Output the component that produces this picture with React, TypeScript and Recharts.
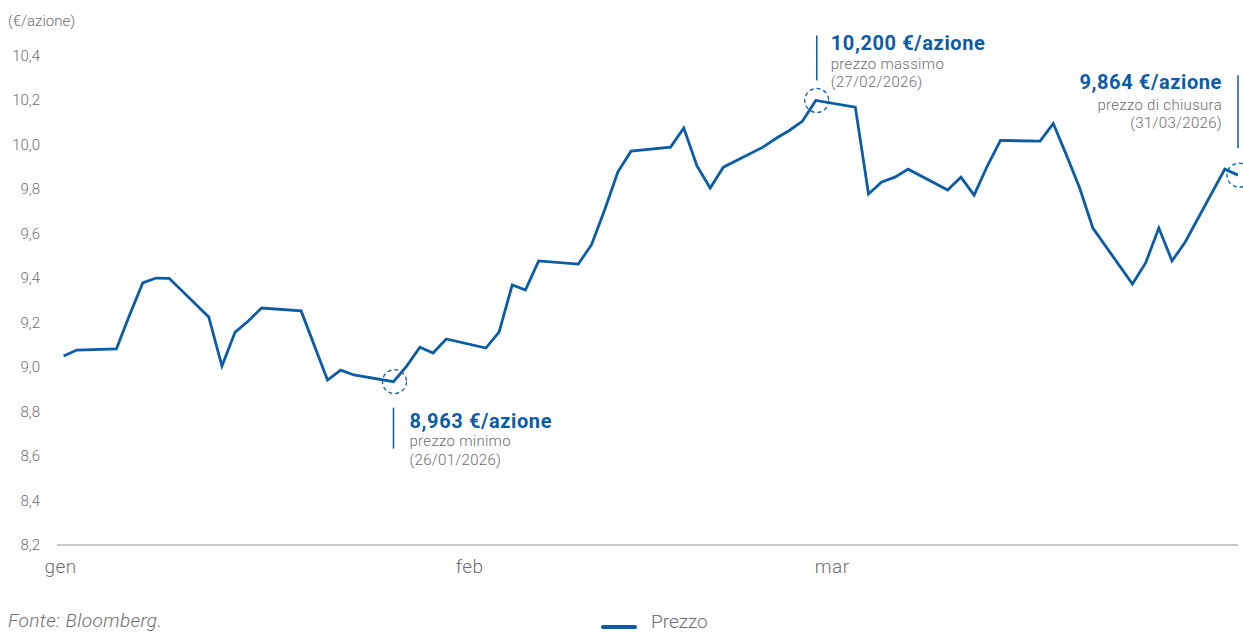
import React from "react";
import { LineChart, Line, XAxis, YAxis, ReferenceDot } from "recharts";

const BLUE = "#0b5ca8";
const GREY = "#6e6e6e";
const FONT = "Roboto, 'Liberation Sans', Arial, sans-serif";

// trading days (Bloomberg closes)
const dates = [
  "2026-01-01", "2026-01-02", "2026-01-05", "2026-01-06", "2026-01-07", "2026-01-08", "2026-01-09",
  "2026-01-12", "2026-01-13", "2026-01-14", "2026-01-15", "2026-01-16",
  "2026-01-19", "2026-01-20", "2026-01-21", "2026-01-22", "2026-01-23",
  "2026-01-26", "2026-01-27", "2026-01-28", "2026-01-29", "2026-01-30",
  "2026-02-02", "2026-02-03", "2026-02-04", "2026-02-05", "2026-02-06",
  "2026-02-09", "2026-02-10", "2026-02-11", "2026-02-12", "2026-02-13",
  "2026-02-16", "2026-02-17", "2026-02-18", "2026-02-19", "2026-02-20",
  "2026-02-23", "2026-02-24", "2026-02-25", "2026-02-26", "2026-02-27",
  "2026-03-02", "2026-03-03", "2026-03-04", "2026-03-05", "2026-03-06",
  "2026-03-09", "2026-03-10", "2026-03-11", "2026-03-12", "2026-03-13",
  "2026-03-16", "2026-03-17", "2026-03-18", "2026-03-19", "2026-03-20",
  "2026-03-23", "2026-03-24", "2026-03-25", "2026-03-26", "2026-03-27",
  "2026-03-30", "2026-03-31",
];

const prices = [
  9.05, 9.077, 9.082, 9.235, 9.379, 9.401, 9.4,
  9.226, 9.005, 9.158, 9.208, 9.266,
  9.253, 9.097, 8.942, 8.987, 8.965,
  8.935, 9.005, 9.09, 9.064, 9.127,
  9.086, 9.158, 9.37, 9.347, 9.478,
  9.464, 9.55, 9.707, 9.878, 9.972,
  9.99, 10.076, 9.905, 9.806, 9.9,
  9.99, 10.03, 10.065, 10.107, 10.2,
  10.17, 9.779, 9.833, 9.855, 9.891,
  9.797, 9.855, 9.774, 9.905, 10.02,
  10.017, 10.096, 9.954, 9.806, 9.626,
  9.374, 9.469, 9.626, 9.478, 9.563,
  9.891, 9.864,
];

const yTicks = [8.2, 8.4, 8.6, 8.8, 9.0, 9.2, 9.4, 9.6, 9.8, 10.0, 10.2, 10.4];
const monthStarts = ["2026-01-01", "2026-02-01", "2026-03-01"];
const monthLabels = ["gen", "feb", "mar"];

const annotations = [
  { date: "2026-01-26", price: 8.935, value: "8,963 €/azione", label: "prezzo minimo", when: "(26/01/2026)", pos: "below" },
  { date: "2026-02-27", price: 10.2, value: "10,200 €/azione", label: "prezzo massimo", when: "(27/02/2026)", pos: "above" },
  { date: "2026-03-31", price: 9.864, value: "9,864 €/azione", label: "prezzo di chiusura", when: "(31/03/2026)", pos: "left" },
];

const DAY = 86400000;
const t0 = Date.UTC(2026, 0, 1);
const dayOf = (s: string) => {
  const [y, m, d] = s.split("-").map(Number);
  return Math.round((Date.UTC(y, m - 1, d) - t0) / DAY);
};

const data = dates.map((d, i) => ({ day: dayOf(d), price: prices[i] }));
const monthTicks = monthStarts.map(dayOf);

const YTick = (props: any) => {
  const { y, payload } = props;
  return (
    <text x={40} y={y + 5} textAnchor="end" fontSize={15} fill={GREY} fontFamily={FONT} fontWeight={300}>
      {payload.value.toFixed(1).replace(".", ",")}
    </text>
  );
};

const XTick = (props: any) => {
  const { x, payload } = props;
  const idx = monthTicks.indexOf(payload.value);
  const shift = [-3, -3, -10][idx] ?? 0;
  return (
    <text x={x + shift} y={573} textAnchor="middle" fontSize={19} letterSpacing={0.4} fill={GREY} fontFamily={FONT} fontWeight={300}>
      {monthLabels[idx]}
    </text>
  );
};

const big = { fontSize: 20, fontWeight: 700, fill: BLUE, letterSpacing: 0.6 };
const small = { fontSize: 15, fontWeight: 300, fill: GREY, letterSpacing: 0.3 };

const makeMarker = (a: typeof annotations[number]) => (props: any) => {
  const { cx, cy } = props;
  const ring = (
    <circle cx={cx + 1} cy={cy} r={12} fill="none" stroke={BLUE} strokeWidth={1.3} strokeDasharray="4 3" />
  );
  if (a.pos === "below") {
    const tx = cx + 16;
    return (
      <g fontFamily={FONT}>
        {ring}
        <line x1={cx} x2={cx} y1={cy + 26} y2={cy + 67} stroke={BLUE} strokeWidth={1.5} />
        <text x={tx} y={cy + 46} {...big}>{a.value}</text>
        <text x={tx} y={cy + 64} {...small}>{a.label}</text>
        <text x={tx} y={cy + 83} {...small}>{a.when}</text>
      </g>
    );
  }
  if (a.pos === "above") {
    const tx = cx + 15;
    return (
      <g fontFamily={FONT}>
        {ring}
        <line x1={cx + 1} x2={cx + 1} y1={cy - 65} y2={cy - 20} stroke={BLUE} strokeWidth={1.5} />
        <text x={tx} y={cy - 50} {...big}>{a.value}</text>
        <text x={tx} y={cy - 31} {...small}>{a.label}</text>
        <text x={tx} y={cy - 13} {...small}>{a.when}</text>
      </g>
    );
  }
  const tx = cx - 16;
  return (
    <g fontFamily={FONT}>
      {ring}
      <line x1={cx} x2={cx} y1={cy - 100} y2={cy - 27} stroke={BLUE} strokeWidth={1.5} />
      <text x={tx} y={cy - 86} {...big} textAnchor="end">{a.value}</text>
      <text x={tx} y={cy - 65} {...small} textAnchor="end">{a.label}</text>
      <text x={tx} y={cy - 47} {...small} textAnchor="end">{a.when}</text>
    </g>
  );
};

export default function App() {
  return (
    <div style={{ position: "absolute", left: 0, top: 0, width: 1243, height: 633, background: "#fff", overflow: "hidden", fontFamily: FONT }}>
      <div style={{ position: "absolute", left: 8, top: 12, fontSize: 15, color: GREY, fontWeight: 300 }}>(€/azione)</div>
      <LineChart width={1243} height={633} data={data} margin={{ top: 56, right: 5, bottom: 58, left: 7 }}>
        <XAxis
          dataKey="day"
          type="number"
          domain={[-0.5, 89]}
          ticks={monthTicks}
          tick={<XTick />}
          tickLine={false}
          axisLine={{ stroke: "#c8c8c8", strokeWidth: 2 }}
          height={30}
          allowDataOverflow
        />
        <YAxis
          domain={[8.2, 10.4]}
          ticks={yTicks}
          tick={<YTick />}
          axisLine={false}
          tickLine={false}
          width={50}
          interval={0}
          allowDataOverflow
        />
        <Line
          type="linear"
          dataKey="price"
          stroke={BLUE}
          strokeWidth={2.8}
          dot={false}
          activeDot={false}
          isAnimationActive={false}
        />
        {annotations.map((a) => (
          <ReferenceDot key={a.date} x={dayOf(a.date)} y={a.price} ifOverflow="visible" shape={makeMarker(a)} />
        ))}
      </LineChart>
      <div style={{ position: "absolute", left: 8, top: 610, fontSize: 19, fontStyle: "italic", color: GREY, fontWeight: 300, letterSpacing: 0.4, lineHeight: "22px" }}>
        Fonte: Bloomberg.
      </div>
      <div style={{ position: "absolute", left: 601, top: 611, height: 22, display: "flex", alignItems: "center" }}>
        <div style={{ width: 36, height: 4, background: BLUE, borderRadius: 2, marginTop: 10 }} />
        <span style={{ marginLeft: 14, fontSize: 19, color: GREY, fontWeight: 300, lineHeight: "22px" }}>Prezzo</span>
      </div>
    </div>
  );
}
